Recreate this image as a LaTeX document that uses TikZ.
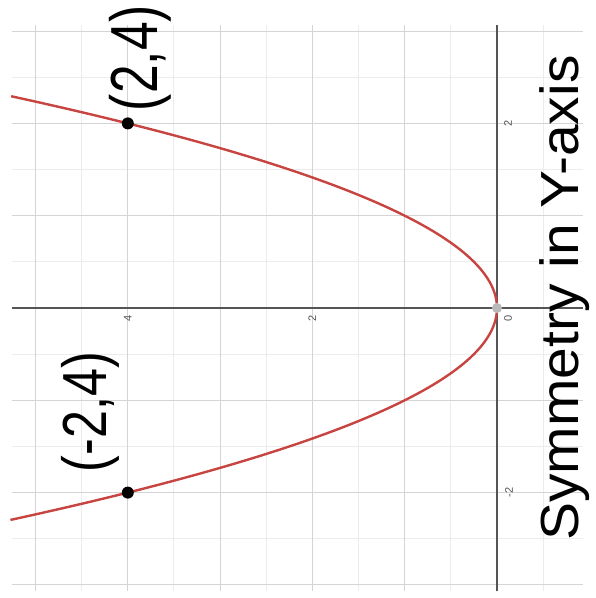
\documentclass[tikz,border=0pt]{standalone}
\usepackage{fontspec}
\usepackage{graphicx}
\setmainfont{Liberation Sans}
\newfontfamily\handfont{Liberation Sans}
\definecolor{desred}{HTML}{C74440}
\definecolor{axisgray}{HTML}{555555}
\definecolor{majorgrid}{HTML}{D4D4D4}
\definecolor{minorgrid}{HTML}{ECECEC}
\tikzset{
  majorline/.style={draw=majorgrid, line width=1pt},
  minorline/.style={draw=minorgrid, line width=1pt},
  axisline/.style={draw=axisgray, line width=1.8pt},
  curveline/.style={draw=desred, line width=2.4pt},
  ptdot/.style={circle, fill=black, inner sep=0pt, minimum size=12pt},
  origindot/.style={circle, fill=gray!55, inner sep=0pt, minimum size=10pt},
  ticklabel/.style={text=axisgray, font=\fontsize{11}{12}\selectfont, rotate=90, inner sep=0pt},
  handlabel/.style={rotate=90, inner sep=0pt, text=black}
}
\begin{document}
\begin{tikzpicture}[x=1pt,y=1pt]
\useasboundingbox (0,0) rectangle (596,598);
\fill[white] (0,0) rectangle (596,598);
\begin{scope}[shift={(497,290)}, rotate=90, x=92.3pt, y=92.3pt]
  % minor grid
  \foreach \b in {-0.5,0.5,1.5,2.5,3.5,4.5}
    \draw[minorline] (-3.07,\b) -- (3.07,\b);
  \foreach \a in {-2.5,-1.5,-0.5,0.5,1.5,2.5}
    \draw[minorline] (\a,-0.93) -- (\a,5.26);
  % major grid
  \foreach \b in {1,2,3,4,5}
    \draw[majorline] (-3.07,\b) -- (3.07,\b);
  \foreach \a in {-3,-2,-1,1,2,3}
    \draw[majorline] (\a,-0.93) -- (\a,5.26);
  % axes
  \coordinate (hx0) at (0,-0.93);
  \coordinate (hx1) at (0,5.26);
  \coordinate (vx0) at (-3.07,0);
  \coordinate (vx1) at (3.07,0);
  \draw[axisline] (hx0) -- (hx1);
  \draw[axisline] (vx0) -- (vx1);
  % tick labels
  \node[ticklabel] (t2) at (2,-0.12) {2};
  \node[ticklabel] (tm2) at (-2,-0.13) {-2};
  \node[ticklabel] (t0) at (-0.11,-0.12) {0};
  \node[ticklabel] (tb2) at (-0.11,2) {2};
  \node[ticklabel] (tb4) at (-0.11,4) {4};
  % parabola
  \draw[curveline] plot[domain=-2.296:2.296, samples=120, smooth] (\x, {\x*\x});
  % points
  \node[origindot] (o) at (0,0) {};
  \node[ptdot] (p1) at (2,4) {};
  \node[ptdot] (p2) at (-2,4) {};
\end{scope}
% handwritten labels
\node[handlabel] (l1) at (140,540) {\resizebox*{106pt}{62pt}{\handfont (2,4)}};
\node[handlabel] (l2) at (90,186) {\resizebox*{120pt}{58pt}{\handfont (-2,4)}};
\node[handlabel] (l3) at (565,300) {\resizebox*{485pt}{50pt}{\handfont Symmetry in Y-axis}};
\end{tikzpicture}
\end{document}
